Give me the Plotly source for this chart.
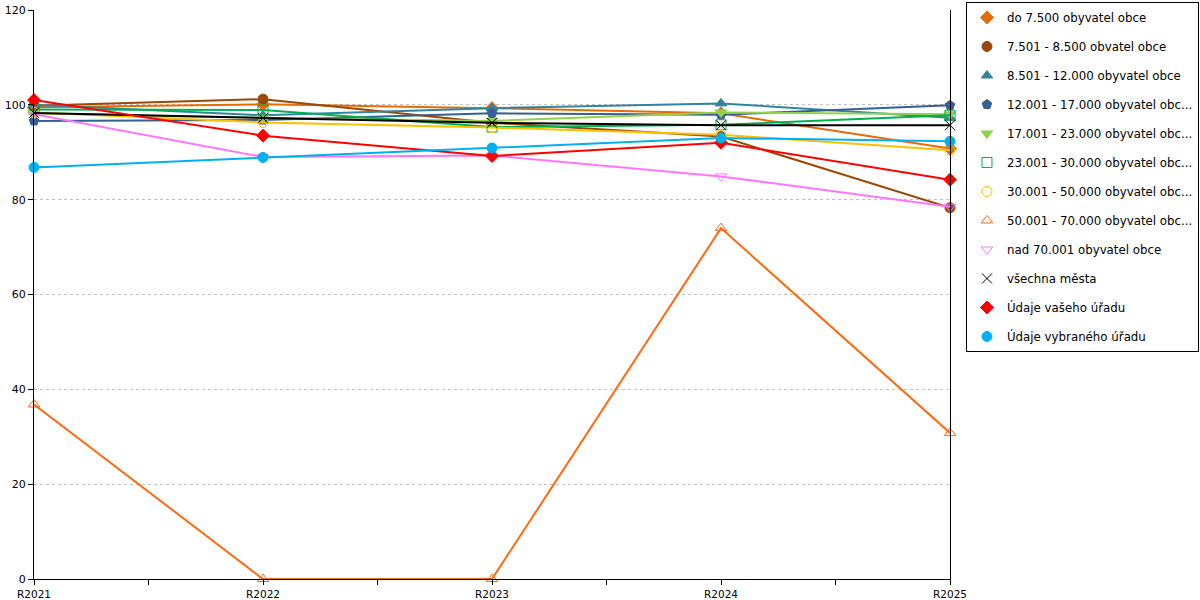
import plotly.graph_objects as go

# categories (years)
years = ["R2021", "R2022", "R2023", "R2024", "R2025"]

# series values
do_7500 = [99.5, 100.1, 99.3, 98.2, 90.8]
od_7501 = [99.8, 101.2, 96.2, 93.3, 78.3]
od_8501 = [100.0, 97.8, 99.3, 100.3, 97.3]
od_12001 = [96.6, 96.8, 98.2, 97.9, 99.9]
od_17001 = [98.2, 97.3, 96.6, 98.4, 98.0]
od_23001 = [99.0, 98.9, 95.3, 95.8, 97.8]
od_30001 = [98.4, 96.3, 95.2, 93.7, 90.4]
od_50001 = [36.8, 0, 0, 74.0, 30.8]
nad_70001 = [98.0, 89.0, 89.3, 84.9, 78.5]
vsechna = [98.3, 97.2, 96.2, 95.7, 95.7]
vas_urad = [101.0, 93.5, 89.2, 92.0, 84.2]
vybrany_urad = [86.8, 88.9, 90.9, 93.0, 92.3]

y_ticks = [0, 20, 40, 60, 80, 100, 120]

series = [
    ("do 7.500 obyvatel obce", do_7500, "#E46C0A", "diamond"),
    ("7.501 - 8.500 obvatel obce", od_7501, "#984807", "circle"),
    ("8.501 - 12.000 obyvatel obce", od_8501, "#31859C", "triangle-up"),
    ("12.001 - 17.000 obyvatel obc...", od_12001, "#376092", "pentagon"),
    ("17.001 - 23.000 obyvatel obc...", od_17001, "#92D050", "triangle-down"),
    ("23.001 - 30.000 obyvatel obc...", od_23001, "#00B050", "square-open"),
    ("30.001 - 50.000 obyvatel obc...", od_30001, "#FFC000", "circle-open"),
    ("50.001 - 70.000 obyvatel obc...", od_50001, "#FF6A10", "triangle-up-open"),
    ("nad 70.001 obyvatel obce", nad_70001, "#FF77FF", "triangle-down-open"),
    ("všechna města", vsechna, "#000000", "x-thin-open"),
    ("Údaje vašeho úřadu", vas_urad, "#FF0000", "diamond"),
    ("Údaje vybraného úřadu", vybrany_urad, "#00B0F0", "circle"),
]

xs = list(range(len(years)))

fig = go.Figure()
for i, (name, vals, color, symbol) in enumerate(series):
    grp = "g%d" % i
    # line without legend entry, markers carry the legend (legend shows only symbols)
    fig.add_trace(go.Scatter(
        x=xs, y=vals, mode="lines", line=dict(color=color, width=2),
        legendgroup=grp, showlegend=False, hoverinfo="skip", cliponaxis=False,
    ))
    fig.add_trace(go.Scatter(
        x=xs, y=vals, mode="markers", name=name, legendgroup=grp,
        marker=dict(color=color, symbol=symbol, size=10,
                    line=dict(color=color, width=1)),
        cliponaxis=False,
    ))

# ticks at categories and half-way between them
tick_pos = [k / 2 for k in range(2 * len(years) - 1)]
tick_txt = [years[int(p)] if p == int(p) else "" for p in tick_pos]

fig.update_layout(
    width=1200, height=600,
    margin=dict(l=34, r=250, t=10, b=21, autoexpand=False),
    plot_bgcolor="white", paper_bgcolor="white",
    font=dict(family="DejaVu Sans", size=11, color="#000000"),
    xaxis=dict(
        range=[0, len(years) - 1], tickvals=tick_pos, ticktext=tick_txt,
        showgrid=False, zeroline=False, showline=True, linecolor="black", linewidth=1,
        ticks="outside", ticklen=5, tickcolor="black", tickfont=dict(size=10.5),
    ),
    yaxis=dict(
        range=[0, 120], tickvals=y_ticks, showline=True, linecolor="black", linewidth=1,
        mirror=True, ticks="outside", ticklen=5, tickcolor="black",
        showgrid=True, gridcolor="#C0C0C0", griddash="dot", gridwidth=1, zeroline=False,
    ),
    legend=dict(
        x=1.2718, y=1.0141, xanchor="right", yanchor="top",
        bordercolor="black", borderwidth=1, bgcolor="white",
        traceorder="grouped", tracegroupgap=10, itemwidth=30, maxheight=1,
        font=dict(family="DejaVu Sans", size=11.8),
    ),
)

# drop the default 8px body margin so the figure fills the window
fig.write_html("out.html", config={"displayModeBar": False},
               post_script="document.body.style.margin='0';")
